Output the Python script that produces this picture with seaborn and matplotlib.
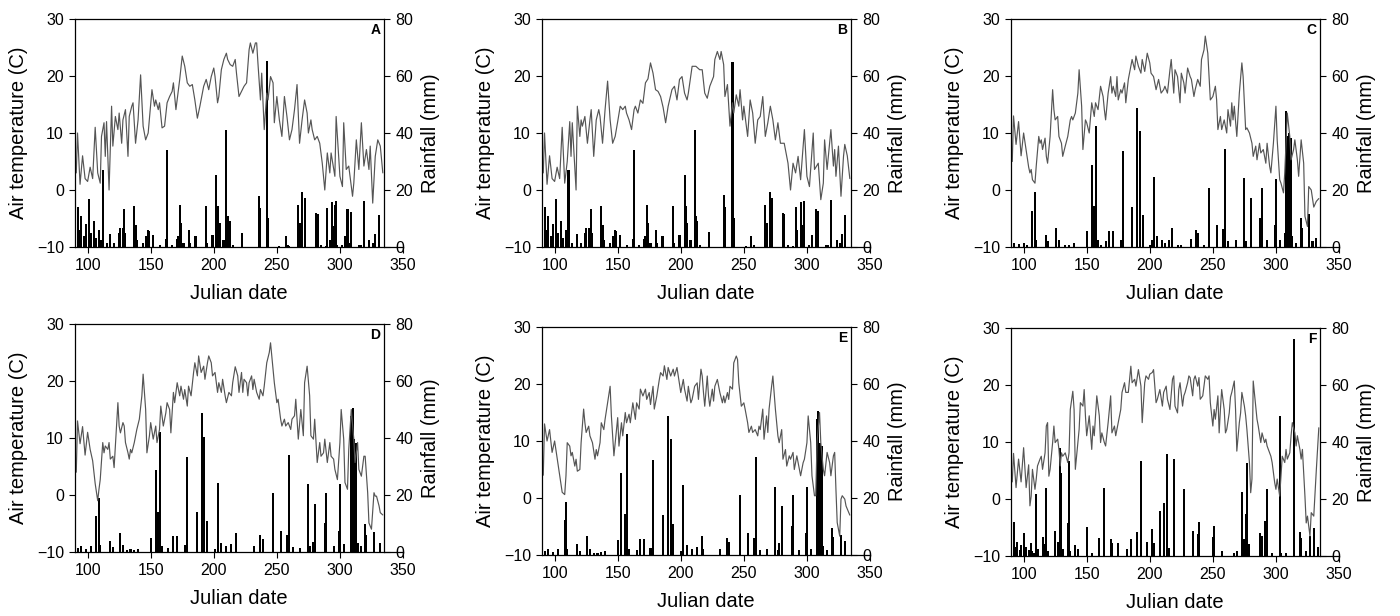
import matplotlib
matplotlib.use("Agg")
import matplotlib.pyplot as plt
import seaborn as sns
import pandas as pd

# daily air temperature (Julian day, deg C)
temp_a = [(91, 3), (92, 10), (94, 1), (96, 6), (98, 2), (100, 1.5), (102, 4), (104, 2), (106, 11), (108, 3),
          (110, 1.2), (111, 9.4), (113, 11.8), (114, 5.9), (115, 12), (117, 0), (119, 14.7), (120, 7.7), (122, 12.9),
          (124, 10.6), (125, 13.5), (127, 8.2), (128, 12.3), (130, 14.1), (132, 5.9), (133, 12.9), (135, 14.7),
          (136, 15.3), (138, 8.2), (140, 12.3), (142, 20.2), (144, 11.2), (146, 8.8), (148, 10), (151, 17.6),
          (153, 14.7), (154, 15.8), (156, 14.1), (157, 15.3), (159, 10.9), (161, 11.2), (163, 15.3), (165, 16.4),
          (167, 17.3), (168, 18.8), (170, 14.1), (173, 19.4), (175, 23.5), (177, 21.7), (179, 18.8), (181, 18.2),
          (183, 18.5), (185, 15.8), (187, 12.6), (189, 14.7), (192, 18.2), (194, 19.4), (196, 17.6), (198, 19.9),
          (200, 21.4), (201, 19.9), (203, 15.3), (204, 16.4), (206, 21.1), (208, 22.9), (210, 24), (211, 22.9),
          (213, 22), (215, 21.7), (217, 22.9), (218, 20.5), (220, 16.4), (224, 18.2), (226, 18.8), (228, 24.6),
          (229, 25.8), (231, 24), (233, 25.8), (234, 25.8), (235, 22.3), (237, 15.8), (238, 20.5), (240, 10.6),
          (242, 17), (243, 15.8), (245, 19.9), (247, 18.8), (248, 11.8), (250, 16.4), (252, 12.3), (254, 9.4),
          (256, 16.4), (258, 12.9), (260, 8.8), (262, 10.6), (264, 14.1), (266, 18.5), (268, 8.2), (270, 12.3),
          (272, 15.8), (274, 13.5), (275, 10), (277, 12.3), (278, 10.6), (280, 8.8), (282, 9.4), (284, 8.2),
          (286, 4.7), (288, 0), (290, 6.5), (292, 3), (293, 6.5), (296, 2.4), (297, 12.9), (300, 2.4), (302, 0.6),
          (303, 11.8), (305, 3.6), (307, 4.2), (310, -1.1), (311, 1.2), (313, 8.8), (315, 3.6), (317, 11.8),
          (319, 4.2), (321, 7.1), (323, 3.6), (324, 7.7), (326, -2.3), (328, 5.9), (330, 8.8), (332, 7.7), (334, 3)]

temp_b = [(91, 3), (92, 10), (94, 1), (96, 6), (98, 2), (100, 1.5), (102, 4), (104, 2), (106, 11), (108, 1.2),
          (110, 5), (112, 12), (113, 5.9), (114, 11.8), (117, 0), (118, 14.7), (120, 9.4), (121, 12.3), (122, 11.2),
          (124, 12.9), (126, 8.2), (128, 12.3), (129, 14.1), (131, 5.9), (133, 12.3), (135, 14.1), (136, 12.9),
          (138, 8.2), (140, 14.1), (142, 19.1), (144, 12.3), (146, 8.2), (148, 9.4), (150, 12), (152, 14.7),
          (154, 14.1), (156, 14.7), (157, 13.5), (159, 12.3), (161, 10.6), (163, 14.1), (164, 14.7), (166, 13.5),
          (168, 15.8), (170, 15.2), (172, 18.8), (174, 19.5), (176, 22.3), (178, 20.5), (180, 17.6), (182, 17.3),
          (184, 16.4), (186, 14.5), (188, 11.8), (190, 14.7), (193, 17.6), (195, 18.2), (197, 15.8), (199, 19.4),
          (201, 19.9), (203, 17), (205, 15.8), (206, 17), (209, 21.7), (212, 21.7), (215, 21.1), (217, 21.1),
          (219, 17), (221, 16.1), (223, 18.2), (226, 19.9), (227, 22.9), (229, 24.3), (231, 22.9), (232, 24.3),
          (234, 22), (235, 16.4), (237, 18.5), (239, 11.2), (241, 15.3), (242, 13.5), (244, 16.7), (246, 14.7),
          (247, 17.6), (249, 12.3), (250, 14.7), (253, 9.4), (255, 15.8), (257, 13.5), (259, 8.2), (261, 12.3),
          (263, 12.9), (265, 16.4), (267, 9.4), (269, 11.8), (271, 14.7), (273, 12.3), (275, 8.8), (277, 11.8),
          (279, 8.2), (282, 8.2), (285, 4.7), (287, 0), (289, 4.7), (291, 3), (293, 5.9), (295, 1.8), (298, 10.6),
          (300, 2.4), (302, 0.6), (305, 10), (306, 3.6), (309, 4.7), (311, -1.7), (313, 1.2), (314, 8.8),
          (316, 3.6), (319, 10.6), (321, 4.2), (322, 7.1), (323, 2.4), (325, 7.7), (327, -1.1), (329, 5.9),
          (330, 8), (332, 6), (334, 2)]

temp_c = [(91, 5), (92, 13), (94, 8), (96, 12), (98, 6), (100, 10), (102, 7), (104, 4), (105, 3), (106, 3.6),
          (107, 1.8), (109, 1.2), (110, 4.2), (112, 9.4), (113, 8.2), (114, 8.8), (115, 7.1), (117, 9.1), (118, 5.9),
          (119, 4.7), (121, 9.4), (123, 17.6), (124, 14.1), (125, 12.3), (127, 12.9), (128, 9.4), (129, 8.8),
          (130, 8.2), (131, 5.9), (133, 7.7), (135, 9.4), (137, 12.3), (138, 12.9), (139, 12.3), (141, 13.5),
          (143, 17), (144, 21.1), (146, 14.7), (147, 7.1), (149, 12.3), (150, 11.8), (152, 10), (154, 15.3),
          (156, 12.9), (157, 15.3), (159, 14.1), (161, 18.2), (163, 16.4), (164, 14.1), (165, 12.3), (167, 17),
          (169, 19.9), (170, 17), (171, 18.2), (173, 16.4), (174, 19.9), (175, 15.8), (177, 17.6), (178, 17),
          (180, 18.8), (181, 15.3), (183, 19.4), (185, 21.7), (186, 22.9), (188, 21.1), (189, 23.5), (191, 21.7),
          (193, 20.5), (194, 22.9), (196, 20.8), (198, 24), (200, 22.3), (201, 20.5), (203, 19.9), (205, 17.6),
          (207, 19.4), (209, 17), (211, 17.6), (212, 18.2), (214, 17), (216, 21.1), (217, 22.9), (219, 17),
          (220, 21.1), (222, 19.9), (224, 15.3), (225, 20.5), (227, 18.8), (228, 17), (230, 21.4), (232, 19.9),
          (233, 19.4), (235, 16.4), (236, 17.6), (238, 19.4), (240, 18.2), (241, 22.9), (243, 24.6), (244, 27),
          (246, 24), (247, 19.9), (248, 15.8), (250, 16.4), (252, 18.2), (253, 15.8), (254, 10.6), (256, 12.9),
          (257, 10.6), (259, 12.3), (261, 10), (262, 14.1), (264, 11.2), (265, 15.3), (266, 12.3), (267, 14.7),
          (269, 9.4), (271, 17), (273, 22.3), (274, 19.9), (276, 10.6), (277, 10.9), (279, 10), (281, 8.2),
          (282, 5.9), (284, 7.7), (285, 5.3), (287, 8.2), (288, 6.5), (290, 7.1), (292, 4.7), (293, 8.2),
          (295, 4.2), (296, 3), (298, 8.2), (300, 14.7), (301, 8.8), (303, 1.8), (304, 1.2), (306, -0.5), (307, 3),
          (309, 13.5), (311, 9.4), (312, 5.3), (314, 7.1), (315, 8.8), (317, 5.3), (318, 2.4), (320, 8.8),
          (322, 4.7), (323, -4.6), (325, -6.4), (326, 0.6), (328, 0), (330, -3), (332, -2), (334, -1.5)]

temp_d = [(91, 4), (92, 13), (94, 9), (96, 12), (98, 7), (100, 11), (102, 8), (104, 6), (106, 2), (108, -1),
          (109, 1), (110, 2.7), (112, 9.2), (113, 7.4), (114, 8.6), (116, 8), (117, 9.2), (118, 6.3), (120, 6.8),
          (121, 4.8), (122, 8.6), (124, 16.2), (125, 12.1), (126, 10.9), (128, 12.7), (129, 12.1), (130, 9.2),
          (132, 7.4), (133, 6.3), (134, 8), (135, 7.4), (137, 9.2), (139, 11.5), (141, 13.3), (143, 17.4),
          (144, 21.2), (146, 15), (147, 7.4), (149, 10.4), (150, 12.7), (152, 9.8), (154, 12.1), (155, 9.2),
          (157, 11.5), (158, 15.6), (160, 12.1), (162, 14.4), (163, 16.2), (165, 15), (166, 10.9), (168, 18),
          (169, 16.2), (171, 19.7), (173, 17.4), (174, 19.1), (176, 16.8), (177, 18.5), (179, 15.6), (180, 19.1),
          (182, 17.4), (184, 21.5), (185, 23.2), (187, 20.9), (188, 24.4), (190, 21.5), (192, 22.6), (193, 20.3),
          (195, 23.2), (196, 24.4), (198, 23.2), (199, 20.9), (201, 21.5), (203, 18), (204, 19.7), (206, 18),
          (207, 20.3), (209, 17.4), (210, 16.2), (212, 18), (214, 17.4), (215, 19.7), (217, 22.5), (219, 20.9),
          (220, 18), (222, 21.5), (223, 18), (224, 20.3), (226, 19.7), (227, 17.4), (228, 19.7), (230, 20.9),
          (231, 18.5), (232, 20.3), (234, 18), (236, 16.8), (237, 18.5), (239, 17.4), (240, 19.1), (242, 23.2),
          (244, 25), (245, 26.7), (246, 24.4), (248, 19.7), (250, 16.2), (251, 16.8), (253, 13.3), (254, 12.1),
          (256, 13.3), (257, 12.1), (259, 12.7), (261, 11.5), (262, 13.3), (264, 13.9), (265, 16.8), (267, 9.8),
          (269, 15), (270, 12.7), (271, 10.4), (272, 19.7), (274, 22.6), (276, 17.4), (277, 10.4), (279, 9.8),
          (280, 13.3), (282, 5.7), (284, 9.2), (285, 6.8), (287, 7.4), (288, 9.8), (290, 5.7), (292, 9.2),
          (293, 6.8), (295, 6.3), (296, 4.5), (298, 2.7), (300, 9.2), (301, 15), (303, 9.8), (304, 2.2), (306, 1),
          (307, 8), (309, 15), (311, 9.8), (312, 5.7), (314, 9.2), (315, 4.5), (317, 3.3), (319, 6.8), (320, 6.8),
          (322, 0.4), (323, -4.9), (325, -6), (327, 0.4), (328, -0.2), (329, -0.2), (331, -1.9), (332, -3.1),
          (334, -3.5)]

temp_e = [(91, 4), (92, 13), (94, 10), (96, 12), (98, 8), (100, 10), (102, 7), (104, 4), (106, 1), (108, 0.6),
          (109, 3.9), (110, 9.7), (112, 9.1), (113, 7.4), (114, 8), (116, 5.6), (117, 6.8), (118, 4.7), (120, 5),
          (121, 9.7), (123, 15.6), (124, 13.2), (125, 11.5), (127, 12.6), (128, 10.9), (130, 9.7), (132, 6.8),
          (133, 8.5), (134, 7.4), (136, 9.7), (137, 13.2), (139, 12), (140, 13.8), (142, 16.7), (144, 19.6),
          (145, 14.4), (147, 7.4), (148, 9.7), (150, 14.1), (151, 9.1), (153, 13.2), (154, 10.9), (156, 15),
          (157, 13.2), (159, 14.7), (160, 13.2), (162, 16.7), (164, 13.8), (165, 16.7), (167, 15.6), (168, 19.1),
          (170, 17.9), (172, 19.1), (173, 17.3), (175, 18.5), (176, 16.4), (178, 19.6), (179, 15.6), (181, 17.9),
          (183, 20.8), (184, 22), (186, 21.4), (187, 23.2), (189, 20.8), (190, 22.9), (192, 21.4), (194, 22.6),
          (195, 21.4), (197, 22.9), (198, 21.4), (200, 18.5), (202, 20.8), (203, 19.1), (205, 17), (206, 19.6),
          (208, 16.7), (209, 17.3), (211, 19.6), (213, 20.2), (214, 17.3), (216, 22.6), (217, 21.4), (218, 18.5),
          (219, 16.1), (221, 21.4), (222, 17.9), (223, 16.1), (225, 19.1), (226, 17), (227, 19.6), (229, 20.8),
          (230, 19.6), (231, 18.5), (233, 16.7), (234, 17.9), (235, 16.7), (237, 18.5), (238, 17.3), (239, 19.6),
          (241, 19.1), (242, 23.7), (244, 24.9), (245, 24.3), (246, 20.2), (248, 16.1), (250, 16.7), (251, 15.6),
          (253, 13.2), (254, 11.5), (256, 12.6), (257, 11.5), (259, 12), (261, 10.9), (262, 12.6), (263, 12),
          (265, 15.6), (266, 10.3), (268, 14.4), (269, 11.5), (270, 15.6), (272, 19.6), (273, 21.4), (275, 15.6),
          (277, 10.9), (278, 9.7), (280, 12), (281, 6.8), (283, 8.5), (284, 5.6), (286, 7.4), (287, 6.8), (289, 8),
          (290, 5), (292, 7.4), (294, 5), (295, 3.9), (297, 6.2), (298, 6.8), (300, 9.7), (301, 14.4), (303, 9.7),
          (304, 3.9), (306, 0.4), (307, 0.4), (308, 9.7), (310, 15), (311, 9.7), (313, 5), (314, 3.9), (316, 8),
          (318, 6.2), (319, 3.9), (321, 7.4), (322, 8), (323, 1.5), (324, -4.3), (326, -6.7), (327, -0.2),
          (328, 0.4), (330, -0.2), (331, -1.4), (334, -3)]

temp_f = [(91, 3), (92, 8), (94, 2), (96, 7), (98, 3), (100, 9), (102, 2), (104, 6), (105, -1.2), (106, 0.5),
          (107, 5.2), (109, 1.7), (110, 3.5), (111, 5.8), (113, 7), (114, 7.5), (115, 5.2), (117, 8.1), (118, 12.8),
          (119, 13.4), (120, 4), (121, 5.2), (123, 9.9), (124, 12.8), (125, 9.9), (127, 10.5), (128, 8.7),
          (129, 5.8), (130, 8.1), (131, 7.5), (133, 8.1), (135, 6.4), (136, 8.1), (137, 15.7), (139, 18.9),
          (140, 15.7), (141, 5.2), (143, 9.9), (144, 12.2), (145, 16.9), (147, 16.3), (148, 19.2), (149, 14.6),
          (150, 11.1), (152, 14.6), (154, 8.7), (155, 12.8), (156, 11.1), (158, 18.1), (160, 14.6), (161, 9.9),
          (162, 11.6), (164, 9.9), (165, 9.3), (167, 13.4), (169, 18.1), (170, 11.6), (172, 12.8), (173, 11.1),
          (175, 13.4), (177, 15.7), (178, 18.7), (180, 20.4), (181, 18.7), (183, 18.7), (185, 23.3), (186, 20.4),
          (188, 21), (189, 19.8), (191, 22.7), (193, 19.8), (194, 13.4), (196, 20.4), (197, 21.6), (199, 21),
          (200, 21.9), (202, 22.2), (203, 22.7), (205, 16.9), (206, 17.5), (208, 19.2), (210, 16.3), (211, 18.7),
          (213, 19.8), (214, 17.5), (216, 15.7), (218, 21), (219, 21.6), (220, 16.3), (222, 15.1), (223, 19.2),
          (224, 20.4), (226, 16.3), (227, 18.1), (228, 18.7), (230, 20.4), (231, 21.6), (232, 21.3), (234, 18.1),
          (235, 21), (236, 21.6), (238, 19.8), (239, 21.3), (240, 17.5), (242, 18.1), (243, 19.8), (244, 21.6),
          (246, 21), (247, 21.6), (248, 16.9), (250, 12.8), (251, 15.7), (252, 14), (254, 18.1), (255, 11.6),
          (256, 15.7), (257, 19.2), (259, 15.7), (260, 11.6), (261, 12.2), (263, 15.1), (264, 17.9), (265, 18.7),
          (267, 20.7), (268, 15.7), (269, 8.4), (271, 13.4), (272, 15.1), (273, 18.7), (275, 16.3), (276, 14.6),
          (277, 12.2), (279, 6.4), (280, 1.1), (281, 3.5), (282, 20.7), (284, 16.3), (285, 14), (286, 12.8),
          (288, 9.9), (289, 11.6), (291, 9.9), (292, 10.5), (293, 9.3), (295, 8.1), (296, 7.5), (297, 6.4),
          (299, 2.9), (300, 1.7), (301, 3.5), (303, 0.5), (304, 4), (305, 7.5), (307, 6.4), (308, 8.7), (309, 7),
          (311, 8.1), (312, 11.1), (313, 13.4), (315, 11.6), (316, 9.3), (317, 11.1), (319, 8.7), (320, 7),
          (321, 8.7), (323, 0.5), (324, -4.2), (325, -3), (327, -6.5), (328, -2.4), (330, -3), (332, 5),
          (334, 12.5)]

# daily rainfall (Julian day, mm)
rain_a = [(92, 14), (93, 6), (95, 11), (97, 4), (99, 8), (101, 17), (103, 5), (105, 9), (107, 3), (109, 6),
          (111, 2.6), (112, 27), (115, 1.4), (118, 4.7), (121, 1.4), (125, 5), (126, 6.7), (128, 6.7), (129, 13.3),
          (130, 5), (137, 14.3), (138, 7.8), (139, 2.6), (144, 1.4), (146, 3.7), (148, 6), (149, 5.5), (152, 4.3),
          (157, 0.8), (162, 2.8), (163, 33.9), (167, 0.8), (171, 2.8), (172, 3.7), (173, 14.9), (174, 8.4),
          (176, 1.4), (180, 6), (181, 1.4), (185, 4), (186, 3.7), (194, 14.3), (195, 1.4), (199, 4.3), (202, 25.4),
          (203, 14.3), (205, 8.4), (207, 2.6), (208, 2.6), (210, 40.9), (211, 10.8), (213, 9), (215, 0.8),
          (222, 4.9), (236, 18), (237, 13.7), (242, 65.1), (243, 10.2), (252, 0.5), (257, 4), (259, 0.8), (260, 0.5),
          (267, 14.9), (268, 8.4), (270, 19.2), (272, 17.2), (281, 11.9), (283, 11.7), (285, 0.8), (289, 0.5),
          (290, 13.7), (292, 2.6), (294, 15.7), (295, 7.3), (296, 14.9), (297, 16.3), (298, 0.8), (302, 0.8),
          (304, 4), (306, 13.3), (307, 1.4), (309, 12.2), (315, 0.8), (317, 0.8), (319, 16.3), (323, 2.6),
          (326, 1.4), (328, 4.7), (331, 11.3)]

rain_b = [(92, 14), (93, 6), (95, 11), (97, 4), (99, 8), (101, 17), (103, 5), (105, 9), (107, 3), (109, 6),
          (110, 2.6), (111, 27), (114, 1.4), (118, 4.7), (121, 1.4), (124, 5), (125, 6.7), (127, 6.7), (129, 13.5),
          (130, 5), (137, 14.3), (138, 7.8), (139, 2.6), (144, 1.4), (146, 3.7), (148, 6), (149, 5.5), (152, 4.3),
          (157, 0.8), (162, 2.8), (163, 33.9), (167, 0.8), (171, 2.8), (172, 3.7), (173, 14.9), (174, 8.4),
          (176, 1.4), (180, 6), (181, 1.4), (185, 4), (186, 3.7), (194, 14.3), (195, 1.4), (199, 4.3), (203, 25.4),
          (204, 14.3), (205, 8.4), (207, 2.6), (208, 2.6), (211, 40.9), (212, 10.8), (213, 9), (215, 0.8),
          (222, 5.1), (234, 18.2), (235, 14), (241, 65), (242, 10.2), (252, 0.5), (256, 4), (258, 0.8), (267, 14.9),
          (268, 8.4), (271, 19.2), (272, 17.2), (281, 11.9), (282, 11.7), (285, 0.8), (289, 0.5), (291, 13.9),
          (292, 6), (295, 15.7), (296, 7.8), (298, 16.3), (302, 0.8), (304, 4.3), (307, 13.3), (308, 1.4),
          (309, 12.5), (315, 0.8), (317, 0.8), (319, 16.4), (324, 2.6), (326, 1.4), (328, 4.7), (330, 11.3)]

rain_c = [(92, 1.5), (96, 1), (100, 1.5), (103, 0.8), (107, 12.5), (109, 19.2), (110, 2.6), (118, 4.1), (119, 2),
          (126, 6.7), (128, 2.6), (133, 0.8), (136, 0.6), (140, 1.4), (150, 5.5), (154, 28.9), (156, 14.5),
          (157, 42.3), (159, 2.6), (161, 0.8), (165, 2), (168, 5.7), (171, 5.7), (177, 2.6), (179, 33.6), (186, 14),
          (190, 48.8), (192, 40.6), (195, 11.3), (200, 0.8), (202, 2.6), (203, 24.6), (206, 3.7), (210, 2.6),
          (212, 1.4), (215, 2.6), (218, 6.7), (222, 0.8), (225, 0.8), (233, 2.8), (237, 6), (238, 5), (243, 0.8),
          (247, 20.7), (253, 7.8), (258, 6.4), (259, 2.6), (260, 34.4), (262, 2), (268, 2.3), (275, 24.2), (276, 2),
          (280, 17.2), (287, 10.2), (289, 20.7), (293, 2.6), (299, 7.8), (300, 23.9), (303, 2.6), (307, 5),
          (308, 47.6), (309, 38.8), (310, 40), (311, 28.3), (312, 38.2), (313, 3.7), (316, 1.4), (320, 10.2),
          (321, 6.7), (326, 11.7), (329, 2), (332, 3)]

rain_d = [(92, 1.5), (95, 2), (99, 1), (103, 2), (107, 12.5), (109, 19), (110, 2.3), (118, 3.9), (120, 1.9),
          (126, 6.5), (128, 2.3), (131, 0.8), (134, 1), (137, 0.6), (140, 1), (150, 5), (154, 28.8), (156, 14),
          (157, 42.1), (159, 2.1), (164, 1.5), (168, 5.6), (171, 5.6), (177, 2.3), (179, 33.5), (187, 14),
          (191, 48.7), (192, 40.5), (195, 10.9), (201, 1.2), (203, 24.3), (206, 3.3), (210, 2.1), (214, 2.7),
          (218, 6.5), (232, 2.1), (237, 5.8), (239, 4.4), (247, 20.6), (253, 7.4), (258, 5.8), (259, 2.7),
          (260, 33.9), (263, 1.9), (268, 1.5), (275, 23.7), (276, 2.1), (279, 3.5), (280, 17), (288, 10.1),
          (289, 20.6), (295, 2.1), (299, 7.4), (300, 23.7), (303, 2.7), (309, 47.7), (310, 50.6), (311, 39.5),
          (312, 26.7), (313, 38.1), (314, 3.3), (317, 2.1), (320, 9.7), (321, 6.1), (327, 7), (332, 3.3)]

rain_e = [(92, 1.5), (95, 2), (99, 1), (103, 2), (108, 12.2), (109, 18.7), (110, 2), (118, 3.9), (120, 1.4),
          (126, 6.7), (128, 2), (131, 0.8), (134, 0.6), (137, 1), (140, 1.3), (150, 5.3), (153, 28.9), (156, 14.3),
          (157, 42.3), (159, 2), (165, 1.8), (168, 5.7), (171, 5.7), (176, 2.6), (178, 33.3), (186, 14),
          (190, 48.8), (192, 40.6), (194, 11), (200, 1.3), (202, 24.4), (205, 3.4), (209, 2.2), (213, 2.9),
          (217, 6.7), (218, 2), (231, 2.2), (237, 6.1), (238, 4.7), (247, 20.9), (253, 7.8), (258, 6.1), (259, 2.9),
          (260, 34.4), (263, 1.8), (268, 2), (275, 24), (277, 1.8), (278, 4.1), (280, 17.2), (288, 10.2),
          (289, 20.9), (294, 1.8), (299, 7.8), (300, 24), (303, 2), (308, 47.6), (309, 50.5), (310, 39.4),
          (311, 28.9), (312, 38.2), (313, 3.2), (316, 1.8), (320, 9.6), (321, 6.4), (327, 6.9), (330, 4.8)]

rain_f = [(92, 12), (93, 3), (95, 5), (97, 2), (98, 4), (100, 8), (102, 3), (104, 2), (106, 4.7), (107, 1.8),
          (108, 1.2), (110, 21.6), (111, 2.3), (115, 6.8), (117, 4.1), (118, 24), (119, 1.8), (125, 8.8), (127, 4.9),
          (129, 38), (130, 29.2), (131, 2.3), (135, 11.7), (136, 33.3), (137, 1.8), (141, 3.7), (143, 2.6),
          (150, 10.3), (154, 0.9), (160, 6.4), (164, 24), (169, 5.8), (170, 4.7), (175, 4.7), (182, 2.3), (185, 5.8),
          (190, 8.4), (193, 33.3), (198, 4.9), (202, 9.6), (203, 4.7), (208, 15.8), (211, 18.5), (214, 35.7),
          (215, 2.9), (219, 33.9), (227, 23.6), (234, 8.8), (238, 7.6), (239, 12), (250, 6.7), (251, 10.5),
          (257, 1.8), (267, 0.9), (269, 1.8), (273, 22.5), (275, 5.8), (276, 14.6), (277, 32.7), (279, 4.1),
          (287, 8.2), (289, 7), (291, 12.3), (293, 23.6), (297, 0.9), (303, 49.1), (304, 1.2), (308, 0.9),
          (314, 76), (319, 8.4), (320, 6.4), (324, 1.8), (327, 7), (330, 10), (333, 3)]

panel_letters = ['A', 'B', 'C', 'D', 'E', 'F']
temps = [temp_a, temp_b, temp_c, temp_d, temp_e, temp_f]
rains = [rain_a, rain_b, rain_c, rain_d, rain_e, rain_f]

sns.set_theme(style="ticks", rc={"axes.edgecolor": "black", "xtick.color": "black",
                                 "ytick.color": "black", "axes.labelcolor": "black",
                                 "text.color": "black", "axes.linewidth": 0.9})
plt.rcParams['font.family'] = ['Liberation Sans', 'DejaVu Sans']

W, H = 1400, 616
# (left, top) of each plot box in pixels
boxes = [(75, 19), (542, 19), (1011, 19), (75, 324), (542, 327), (1011, 328)]
bw, bh = 328, 228

fig = plt.figure(figsize=(W / 100, H / 100), dpi=100)

for letter, temp, rain, (lx, ty) in zip(panel_letters, temps, rains, boxes):
    ax = fig.add_axes([lx / W, 1 - (ty + bh) / H, bw / W, bh / H])
    ax2 = ax.twinx()

    tdf = pd.DataFrame(temp, columns=['day', 'temp'])
    rdf = pd.DataFrame(rain, columns=['day', 'mm'])

    ax2.bar(rdf['day'], rdf['mm'], width=1.6, color='black', linewidth=0)
    sns.lineplot(data=tdf, x='day', y='temp', ax=ax, color='#555555', linewidth=0.85,
                 estimator=None, sort=False)

    # temperature line drawn above the rain bars
    ax.set_zorder(ax2.get_zorder() + 1)
    ax.patch.set_visible(False)

    ax.set_xlim(90, 350)
    ax.set_ylim(-10, 30)
    ax2.set_ylim(0, 80)
    ax.set_xticks(range(100, 351, 50))
    ax.set_yticks(range(-10, 31, 10))
    ax2.set_yticks(range(0, 81, 20))

    # rainfall axis sits at day 335, the date axis runs on to 350
    ax.spines['right'].set_visible(False)
    ax.spines['top'].set_bounds(90, 335)
    for s in ['top', 'left', 'bottom']:
        ax2.spines[s].set_visible(False)
    ax2.spines['right'].set_position(('data', 335))
    ax2.spines['right'].set_linewidth(0.9)

    ax.tick_params(direction='out', length=4, width=0.8, labelsize=11.5, pad=4)
    ax2.tick_params(direction='out', length=4, width=0.8, labelsize=11.5, pad=4)

    ax.set_xlabel('Julian date', fontsize=14.5, labelpad=8)
    ax.set_ylabel('Air temperature (C)', fontsize=14.5, labelpad=6)
    ax2.set_ylabel('Rainfall (mm)', fontsize=14.5, labelpad=6)

    ax.text(332, 29.3, letter, ha='right', va='top', fontsize=10, fontweight='bold')

fig.savefig('out.png', dpi=100)
